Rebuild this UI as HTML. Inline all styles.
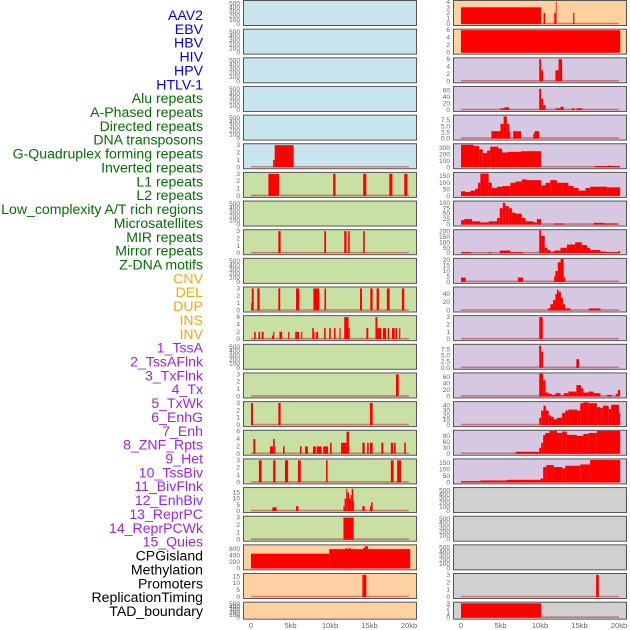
<!DOCTYPE html>
<html><head><meta charset="utf-8"><style>
html,body{margin:0;padding:0;background:#fff;width:630px;height:630px;overflow:hidden}
svg{display:block}
</style></head><body>
<svg id="chart" width="630" height="630" viewBox="0 0 630 630" xmlns="http://www.w3.org/2000/svg"></svg>
<script>
const trackLabels = ["AAV2","EBV","HBV","HIV","HPV","HTLV-1","Alu repeats","A-Phased repeats","Directed repeats","DNA transposons","G-Quadruplex forming repeats","Inverted repeats","L1 repeats","L2 repeats","Low_complexity A/T rich regions","Microsatellites","MIR repeats","Mirror repeats","Z-DNA motifs","CNV","DEL","DUP","INS","INV","1_TssA","2_TssAFlnk","3_TxFlnk","4_Tx","5_TxWk","6_EnhG","7_Enh","8_ZNF_Rpts","9_Het","10_TssBiv","11_BivFlnk","12_EnhBiv","13_ReprPC","14_ReprPCWk","15_Quies","CPGisland","Methylation","Promoters","ReplicationTiming","TAD_boundary"];
const labelGroups = ["virus","virus","virus","virus","virus","virus","repeat","repeat","repeat","repeat","repeat","repeat","repeat","repeat","repeat","repeat","repeat","repeat","repeat","sv","sv","sv","sv","sv","chrom","chrom","chrom","chrom","chrom","chrom","chrom","chrom","chrom","chrom","chrom","chrom","chrom","chrom","chrom","other","other","other","other","other"];
const xTickKb = [0,5,10,15,20];
const xTickLabels = ["0","5kb","10kb","15kb","20kb"];
const emptyTicks = [0,100,200,300,400,500];
const yMax = [550,550,550,550,550,3.1,3.1,550,3.1,550,3.1,6.2,550,3.1,3.1,6.2,3.1,18.5,3.1,700,16.5,550,
  4.1,6.1,6.2,70,9.25,355,174,105,210,21,55,3.1,9.25,70,47,115,178,550,550,550,3.1,3.1];
const yTicks = [emptyTicks,emptyTicks,emptyTicks,emptyTicks,emptyTicks,[0,1,2,3],[0,1,2,3],emptyTicks,[0,1,2,3],emptyTicks,[0,1,2,3],[0,2,4,6],emptyTicks,[0,1,2,3],[0,1,2,3],[0,2,4,6],[0,1,2,3],[0,5,10,15],[0,1,2,3],[0,200,400,600],[0,5,10,15],emptyTicks,
  [0,1,2,3,4],[0,2,4,6],[0,2,4,6],[0,20,40,60],[0,2.5,5,7.5],[0,100,200,300],[0,50,100,150],[0,25,50,75,100],[0,50,100,150,200],[0,5,10,15,20],[0,20,40],[0,1,2,3],[0,2.5,5,7.5],[0,20,40,60],[0,10,20,30,40],[0,30,60,90],[0,50,100,150],emptyTicks,emptyTicks,emptyTicks,[0,1,2,3],[0,1,2,3]];
const yTickText = [null,null,null,null,null,null,null,null,null,null,null,null,null,null,null,null,null,null,null,null,null,null,
  null,null,null,null,["0.0","2.5","5.0","7.5"],null,null,null,null,null,null,null,["0.0","2.5","5.0","7.5"],null,null,null,null,null,null,null,null,null];
const segments = [
 [],[],[],[],[],
 [[2.8,3.0,1],[3.0,5.4,3]],
 [[2.2,3.55,3],[10.4,10.7,3],[14.2,14.6,3],[17.5,17.9,3],[19.4,19.8,3]],
 [],
 [[3.46,3.75,3],[9.28,9.5,3],[11.8,12.1,3],[12.3,12.5,3],[14.2,14.4,3]],
 [],
 [[0,0.1,1],[0.1,0.34,3],[0.8,1.1,3],[3.46,3.7,3],[5.7,6.1,3],[7.9,8.65,3],[9.3,9.5,3],[13.8,14.05,3],[15.1,15.4,3],[15.9,16.2,3],[17.2,17.55,3],[19.1,19.4,3]],
 [[0.4,0.6,2],[0.95,1.15,2],[1.35,1.6,2],[2.65,2.8,1],[2.8,2.95,2],[3.6,3.95,2],[4.7,4.85,2],[5.6,5.9,2],[5.9,6.1,2],[6.35,6.5,2],[7.75,7.95,3],[7.95,8.05,2],[8.25,8.5,2],[9.25,9.45,3],[9.9,10.1,3],[10.5,10.7,3],[11.2,11.35,3],[11.8,12.35,6],[12.35,12.5,3],[14.6,14.85,3],[15.75,16.0,6],[16.0,16.5,3],[16.7,17.1,3],[17.3,17.5,3],[17.85,18.2,3],[18.3,18.5,3],[18.75,18.9,3]],
 [],
 [[18.35,18.7,3]],
 [[0,0.25,3],[3.46,3.75,3],[15.05,15.4,3]],
 [[0.3,0.55,4],[2.4,2.8,2],[2.8,3.0,4],[3.0,3.1,2],[4.05,4.25,2],[6.2,6.4,2],[6.85,7.2,2],[7.85,8.2,2],[8.3,8.95,2],[9.15,9.75,2],[10.0,10.2,3],[11.4,12.1,3],[12.1,12.4,6],[14.1,14.4,3],[14.7,14.9,3],[15.05,15.4,3],[16.5,16.75,3],[17.7,18.0,3],[18.1,18.3,3],[19.4,19.6,3]],
 [[1.0,1.35,3],[2.8,3.1,3],[4.3,4.7,3],[5.95,6.3,3],[9.5,9.7,3],[17.7,18.05,3],[18.5,19.0,3]],
 [[2.7,3.25,3],[5.7,6.0,4],[11.7,11.85,4],[11.85,12.05,10],[12.05,12.2,18],[12.2,12.4,15],[12.4,12.6,10],[12.6,12.75,13],[12.75,12.95,18],[12.95,13.05,8],[14.1,14.4,4],[15.05,15.2,4],[15.2,15.4,7]],
 [[11.7,13.0,3]],
 [[0,9.9,450],[9.9,20.15,590],[12.0,12.2,620],[12.4,12.6,620],[14.2,14.4,630],[14.4,14.8,680]],
 [[14.1,14.6,16]],
 [],
 [[0,10.15,3],[10.45,10.65,2],[11.8,12.0,2],[12.0,12.1,4],[14.2,14.35,2]],
 [[0,20.15,6]],
 [[9.9,10.15,6],[10.15,10.4,3],[11.95,12.35,3],[12.35,12.8,6]],
 [[5.0,5.5,5],[5.5,6.1,8],[9.9,10.15,65],[10.15,10.4,35],[10.4,10.7,15],[11.95,12.6,5],[12.6,13.0,10],[14.0,14.4,5],[14.6,15.35,5]],
 [[3.85,5.0,3],[5.0,5.4,6],[5.4,5.8,9],[5.8,6.1,6],[6.1,6.25,3],[6.6,7.6,3],[9.15,9.3,2],[9.3,9.9,3]],
 [[0,1.6,350],[1.6,2.3,330],[2.3,2.75,280],[2.75,3.3,220],[3.3,3.7,260],[3.7,4.75,320],[4.75,5.2,290],[5.2,5.9,230],[5.9,7.6,240],[7.6,10.15,250],[17.0,20.15,20],[18.7,18.9,30]],
 [[0,0.55,35],[0.55,1.2,30],[1.2,1.8,40],[1.8,2.15,55],[2.15,2.45,100],[2.45,3.5,170],[3.5,3.9,100],[3.9,4.55,60],[4.55,5.2,70],[5.2,6.25,75],[6.25,6.9,100],[6.9,7.7,110],[7.7,8.35,125],[8.35,10.15,120],[10.15,10.7,80],[10.7,11.3,100],[11.3,12.15,120],[12.15,12.8,100],[12.8,13.6,100],[13.6,14.25,75],[14.25,14.9,60],[14.9,15.75,40],[15.75,16.35,60],[16.35,18.5,70],[18.5,20.15,65]],
 [[0,0.4,20],[0.4,1.4,25],[1.4,2.45,15],[2.45,3.5,10],[3.5,4.55,15],[4.55,4.9,30],[4.9,5.3,75],[5.3,5.6,100],[5.6,6.05,85],[6.05,6.45,75],[6.45,6.9,55],[6.9,7.7,50],[7.7,8.15,30],[8.15,9.2,15],[9.2,9.6,10],[9.6,10.15,25],[11.8,13.0,5],[16.8,18.05,8],[18.05,19.75,5]],
 [[0,1.25,10],[3.5,3.8,10],[4.9,6.25,25],[6.25,7.85,10],[9.9,10.15,210],[10.15,10.6,160],[10.6,10.9,50],[10.9,11.3,30],[11.3,11.8,15],[11.8,12.6,25],[12.6,13.4,50],[13.4,14.45,80],[14.45,15.3,100],[15.3,15.95,75],[15.95,16.35,50],[16.35,17.65,30],[17.65,18.35,15],[18.35,19.95,10],[19.95,20.15,20]],
 [[0,0.6,4],[7.2,7.85,4],[11.8,12.05,5],[11.95,12.25,10],[12.25,12.6,18],[12.6,13.0,21],[13.0,13.2,4]],
 [[11.0,11.3,5],[11.3,11.65,15],[11.65,11.95,25],[11.95,12.15,40],[12.15,12.35,50],[12.35,12.65,45],[12.65,12.9,30],[12.9,13.2,15],[13.2,13.85,5],[16.15,17.65,5]],
 [[9.9,10.35,3]],
 [[9.9,10.15,9],[10.15,10.4,6.5],[14.6,14.95,3.5]],
 [[9.9,10.4,70],[10.4,10.7,50],[10.7,11.1,12],[11.1,11.5,8],[11.5,11.95,5],[11.95,12.6,10],[12.6,13.0,3],[13.0,13.6,10],[13.6,14.6,15],[14.6,15.2,35],[15.2,15.5,25],[15.5,16.15,12],[16.15,16.8,15],[16.8,17.65,10],[18.5,19.05,5],[19.6,19.85,8],[19.85,20.15,20]],
 [[9.9,10.15,15],[10.15,10.45,30],[10.45,10.75,40],[10.75,11.1,30],[11.1,11.4,20],[11.4,11.75,17],[11.75,12.15,12],[12.15,12.8,15],[12.8,13.2,25],[13.2,13.6,30],[13.6,14.7,32],[14.7,15.1,30],[15.1,15.5,45],[15.5,16.15,47],[16.15,17.2,45],[17.2,17.65,37],[17.65,17.95,35],[17.95,18.7,40],[18.7,19.0,33],[19.0,20.0,42],[20.0,20.15,25]],
 [[6.95,9.9,10],[9.9,10.15,30],[10.15,10.4,55],[10.4,10.7,95],[10.7,11.2,105],[11.2,12.15,115],[12.15,12.8,105],[12.8,13.4,112],[13.4,14.7,95],[14.7,15.5,90],[15.5,16.15,100],[16.15,17.2,105],[17.2,20.15,115]],
 [[0,2.45,10],[2.45,5.8,15],[5.8,10.05,20],[10.05,10.4,30],[10.4,10.8,120],[10.8,11.75,135],[11.75,12.8,120],[12.8,13.2,110],[13.2,15.1,130],[15.1,16.35,140],[16.35,20.15,175]],
 [],[],[],
 [[17.1,17.45,3]],
 [[0,10.15,3]]
];
const groupBg = {virus:"#c8e4ec",repeat:"#c8e0a4",sv:"#ffd0a0",chrom:"#d6c7e2",other:"#d0d0d0"};
const groupText = {virus:"#0000ee",repeat:"#007000",sv:"#ffa500",chrom:"#a020f0",other:"#000000"};
const panelBg = (i)=>{ if(i>=19 && i<=23) return groupBg.sv; return groupBg[labelGroups[i]]; };

const NS="http://www.w3.org/2000/svg";
const svg=document.getElementById('chart');
function mk(tag,attrs,parent){const e=document.createElementNS(NS,tag);for(const k in attrs)e.setAttribute(k,attrs[k]);(parent||svg).appendChild(e);return e;}

trackLabels.forEach((t,i)=>{
  const el=mk('text',{x:203,y:15+i*13.86+5,'text-anchor':'end','font-family':'"Liberation Sans", sans-serif','font-size':'14.1',fill:groupText[labelGroups[i]]});
  el.textContent=t;
  
  
});

const colX=[243,453];
const PW=173;
function xScale(col,kb){return colX[col]+8+kb*7.9;}
for(let i=0;i<44;i++){
  const col=i<22?0:1, row=i%22;
  const top=row*28.65, h=(row===21)?17:25;
  const g=mk('g',{});
  
  
  const rect=mk('rect',{x:colX[col]+0.5,y:top+0.5,width:PW,height:h,fill:panelBg(i),stroke:'#555','stroke-width':1},g);
  
  
  const y0=top+h-1, y1=top+1.2;
  const yS=v=>y0-(v/yMax[i])*(y0-y1);
  yTicks[i].forEach((v,k)=>{
    const tt=mk('text',{x:colX[col]-3,y:yS(v)+2,'text-anchor':'end','font-family':'"Liberation Sans", sans-serif','font-size':'6.5',fill:'#666'},g);
    tt.textContent=yTickText[i]?yTickText[i][k]:String(v);
    
    
  });
  if(segments[i].length){
    const bl=mk('line',{x1:xScale(col,0),x2:xScale(col,20),y1:y0-0.5,y2:y0-0.5,stroke:'rgba(190,30,30,0.5)','stroke-width':1.6},g);
    
    
  }
  segments[i].forEach(s=>{
    const x=xScale(col,s[0]), w=Math.max(0.8,xScale(col,s[1])-x), y=yS(Math.min(s[2],yMax[i]));
    const b=mk('rect',{x:x,y:y,width:w,height:y0-y,fill:'#ff0000'},g);
    
    
  });
}
[0,1].forEach(col=>{
  xTickKb.forEach((kb,k)=>{
    const t=mk('text',{x:xScale(col,kb),y:628,'text-anchor':'middle','font-family':'"Liberation Sans", sans-serif','font-size':'7.5',fill:'#666'});
    t.textContent=xTickLabels[k];
    
    
  });
});
</script>
</body></html>
